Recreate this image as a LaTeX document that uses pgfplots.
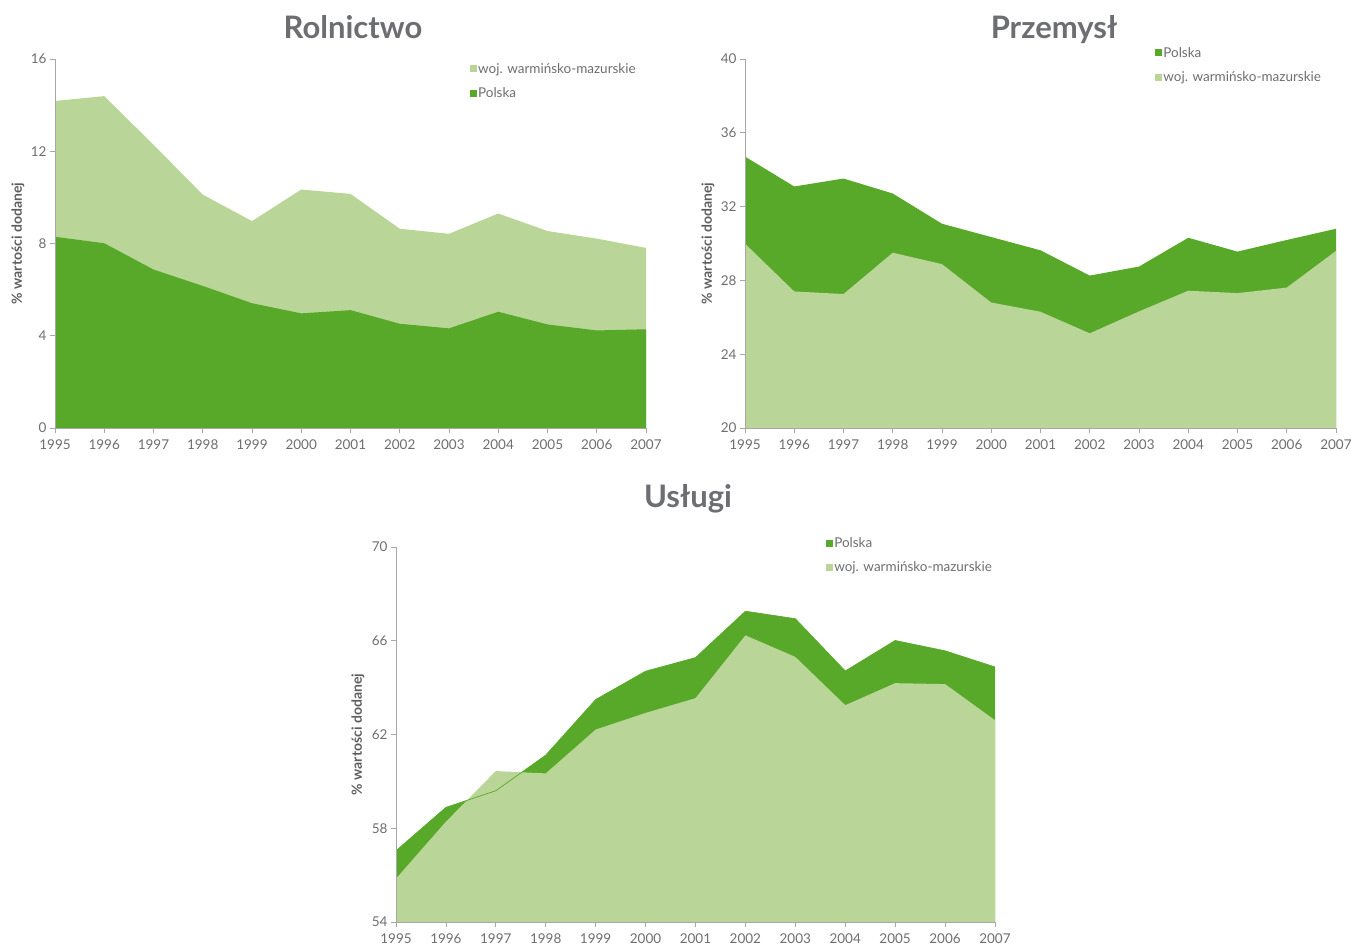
\documentclass[border=0pt]{standalone}
\usepackage{fontspec}
\setmainfont{Lato}
\usepackage{pgfplots}
\pgfplotsset{compat=1.18}
\definecolor{dgreen}{HTML}{58A92A}
\definecolor{lgreen}{HTML}{B9D698}
\definecolor{txtgray}{HTML}{6D6E71}
\definecolor{axgray}{HTML}{A8A8A8}
\pgfplotsset{
 panel/.style={
  scale only axis, width=591pt, height=369pt,
  anchor=south west,
  xmin=1995, xmax=2007, xtick={1995,...,2007},
  enlargelimits=false,
  axis lines*=left,
  axis line style={axgray, line width=0.8pt},
  tick style={axgray, line width=0.8pt},
  tick align=outside,
  major tick length=5pt,
  /pgf/number format/assume math mode=true,
  /pgf/number format/1000 sep={},
  ticklabel style={font=\fontsize{13.5}{15}\selectfont, text=txtgray},
  xticklabel style={yshift=-3pt},
  ylabel={\% wartości dodanej},
  ylabel style={font=\bfseries\fontsize{14}{16}\selectfont, text=txtgray!85!black, at={(axis description cs:-0.0626,0.5)}, anchor=center},
  axis on top,
  legend style={draw=none, fill=none, inner sep=0pt, font=\fontsize{13.5}{15}\selectfont, text=txtgray, anchor=north west, row sep=11pt, nodes={inner sep=1pt}},
  legend cell align=left,
  legend image code/.code={\path[#1,draw=none] (0pt,-3.5pt) rectangle (7pt,3.5pt);},
 }
}
\begin{document}
\begin{tikzpicture}
\useasboundingbox (0,0) rectangle (1351pt,945pt);
% Rolnictwo
\begin{axis}[panel, at={(55pt,517pt)}, ymin=0, ymax=16, ytick={0,4,8,12,16},
  legend style={at={(axis description cs:0.702,0.992)}}]
\addplot[fill=lgreen, draw=none] coordinates {(1995,14.18) (1996,14.39) (1997,12.28) (1998,10.12) (1999,8.97) (2000,10.34) (2001,10.15) (2002,8.64) (2003,8.42) (2004,9.30) (2005,8.54) (2006,8.21) (2007,7.81)} \closedcycle;
\addlegendentry{woj. warmińsko-mazurskie}
\addplot[fill=dgreen, draw=none] coordinates {(1995,8.29) (1996,8.01) (1997,6.87) (1998,6.16) (1999,5.41) (2000,4.97) (2001,5.11) (2002,4.52) (2003,4.32) (2004,5.04) (2005,4.49) (2006,4.23) (2007,4.28)} \closedcycle;
\addlegendentry{Polska}
\end{axis}
% Przemysl
\begin{axis}[panel, at={(745pt,517pt)}, ymin=20, ymax=40, ytick={20,24,...,40},
  legend style={at={(axis description cs:0.694,1.035)}}]
\addplot[fill=dgreen, draw=none] coordinates {(1995,34.71) (1996,33.09) (1997,33.52) (1998,32.71) (1999,31.07) (2000,30.35) (2001,29.63) (2002,28.26) (2003,28.75) (2004,30.31) (2005,29.56) (2006,30.19) (2007,30.80)} \closedcycle;
\addlegendentry{Polska}
\addplot[fill=lgreen, draw=none] coordinates {(1995,29.99) (1996,27.40) (1997,27.26) (1998,29.50) (1999,28.88) (2000,26.80) (2001,26.30) (2002,25.13) (2003,26.32) (2004,27.44) (2005,27.31) (2006,27.61) (2007,29.60)} \closedcycle;
\addlegendentry{woj. warmińsko-mazurskie}
\end{axis}
% Uslugi
\begin{axis}[panel, width=599pt, height=375pt, at={(396pt,23pt)}, ymin=54, ymax=70, ytick={54,58,...,70},
  ylabel style={at={(axis description cs:-0.0634,0.5)}},
  legend style={at={(axis description cs:0.718,1.029)}}]
\addplot[fill=dgreen, draw=none] coordinates {(1995,57.04) (1996,58.89) (1997,59.60) (1998,61.12) (1999,63.49) (2000,64.70) (2001,65.28) (2002,67.26) (2003,66.94) (2004,64.71) (2005,66.01) (2006,65.57) (2007,64.88)} \closedcycle;
\addlegendentry{Polska}
\addplot[fill=lgreen, draw=none] coordinates {(1995,55.85) (1996,58.28) (1997,60.44) (1998,60.34) (1999,62.21) (2000,62.92) (2001,63.55) (2002,66.23) (2003,65.31) (2004,63.25) (2005,64.19) (2006,64.15) (2007,62.61)} \closedcycle;
\addlegendentry{woj. warmińsko-mazurskie}
\addplot[dgreen, line width=0.7pt, forget plot] coordinates {(1995,57.04) (1996,58.89) (1997,59.60) (1998,61.12) (1999,63.49) (2000,64.70) (2001,65.28) (2002,67.26) (2003,66.94) (2004,64.71) (2005,66.01) (2006,65.57) (2007,64.88)};
\end{axis}
\node[anchor=base, font=\bfseries\fontsize{31}{35}\selectfont, text=txtgray] at (353pt,906.5pt) {Rolnictwo};
\node[anchor=base, font=\bfseries\fontsize{31}{35}\selectfont, text=txtgray] at (1054pt,906.5pt) {Przemysł};
\node[anchor=base, font=\bfseries\fontsize{31}{35}\selectfont, text=txtgray] at (688pt,437pt) {Usługi};
\end{tikzpicture}
\end{document}
